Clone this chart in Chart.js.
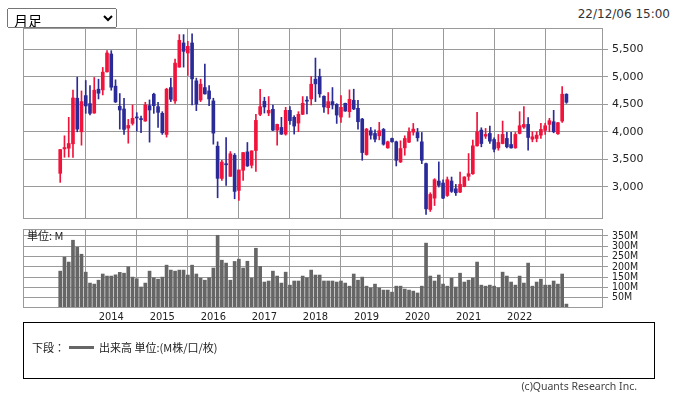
<!DOCTYPE html>
<html>
<head>
<meta charset="utf-8">
<script src="https://cdn.jsdelivr.net/npm/chart.js@4.4.1/dist/chart.umd.min.js"></script>
<style>
html, body { margin: 0; padding: 0; background: #fff; }
body { width: 675px; height: 398px; position: relative; overflow: hidden; font-family: "DejaVu Sans", sans-serif; }
canvas { position: absolute; left: 0; top: 0; }
select { position: absolute; left: 7px; top: 8px; width: 110px; height: 20px; font: 14px "Noto Sans CJK JP"; padding: 0 2px; color: #000; z-index: 2; }
#stamp { position: absolute; right: 5px; top: 7px; font: 12px "DejaVu Sans"; color: #333; }
#legend { position: absolute; left: 23px; top: 322px; width: 632px; height: 57px; border: 1px solid #000; box-sizing: border-box; font: 11px "Noto Sans CJK JP"; color: #222; }
#legend .row { position: absolute; left: 8px; top: 16px; display: flex; align-items: center; }
#legend .line { display: inline-block; width: 25px; height: 3px; background: #666; margin: 0 5px 0 4px; }
#copy { position: absolute; right: 38px; top: 379px; font: 10.5px "Noto Sans"; color: #444; }
</style>
</head>
<body>
<select><option>月足</option></select>
<div id="stamp">22/12/06 15:00</div>
<canvas id="price" width="675" height="219"></canvas>
<canvas id="volume" width="675" height="330"></canvas>
<div id="legend"><div class="row">下段：<span class="line"></span>出来高 単位:(M株/口/枚)</div></div>
<div id="copy">(c)Quants Research Inc.</div>
<script>
// monthly candles, Jan 2013 .. Dec 2022
const opens = [3245, 3689, 3701, 3781, 4608, 3999, 4656, 4510, 4340, 4772, 4760, 5088,
  5411, 4827, 4462, 4413, 4066, 4151, 4260, 4230, 4194, 4474, 4681, 4455,
  4334, 3951, 4802, 4559, 5173, 5611, 5429, 5611, 4924, 4577, 4802, 4741,
  4559, 3738, 3153, 3420, 3190, 3573, 2935, 3300, 3634, 3391, 3659, 4316,
  4553, 4340, 4407, 4030, 4078, 3957, 4389, 4261, 4157, 4316, 4565, 4595,
  4954, 5003, 4644, 4437, 4547, 4498, 4267, 4516, 4364, 4571, 4425, 4230,
  3586, 4018, 3969, 3926, 4042, 3707, 3878, 3817, 3452, 3707, 3811, 3993,
  3987, 3817, 3421, 2588, 2795, 3105, 3069, 2843, 3105, 2965, 2904, 3008,
  3190, 3239, 3744, 4030, 3920, 3969, 3859, 3707, 3786, 3878, 3768, 3707,
  3969, 4084, 4133, 3865, 3878, 3938, 4024, 4133, 4182, 3963, 4194, 4681];
const highs = [3680, 3926, 4261, 4754, 4991, 4741, 4930, 4839, 4985, 4954, 5167, 5471,
  5471, 4942, 4693, 4608, 4224, 4486, 4346, 4285, 4535, 4577, 4699, 4535,
  4364, 4790, 4973, 5319, 5763, 5763, 5642, 5776, 4973, 4954, 5228, 4839,
  4608, 3817, 3480, 3896, 3640, 3604, 3306, 3622, 3805, 3653, 4316, 4772,
  4626, 4638, 4486, 4140, 4261, 4443, 4455, 4291, 4364, 4638, 4638, 5003,
  5338, 5137, 4650, 4711, 4802, 4510, 4656, 4520, 4760, 4772, 4571, 4243,
  4060, 4078, 4036, 4170, 4060, 3830, 3885, 3830, 3835, 3926, 4072, 4151,
  4060, 3987, 3430, 2892, 3148, 3452, 3129, 3178, 3178, 3044, 3269, 3185,
  3604, 3847, 4352, 4072, 4060, 4103, 3890, 3951, 4194, 3987, 3987, 3987,
  4364, 4455, 4255, 4000, 4000, 4151, 4151, 4243, 4389, 4170, 4820, 4690];
const lows = [3081, 3537, 3540, 3536, 3999, 3756, 4334, 4303, 4334, 4595, 4668, 5080,
  4754, 4530, 4048, 3951, 3792, 4121, 4011, 3981, 4190, 3811, 4334, 4078,
  3951, 3902, 4547, 4516, 5170, 5173, 5021, 4486, 4383, 4547, 4680, 4474,
  3774, 2801, 3117, 3026, 3190, 2783, 2752, 3117, 3370, 3342, 3281, 4291,
  4340, 4291, 4020, 3756, 3950, 3938, 4133, 3957, 4000, 4310, 4322, 4486,
  4547, 4626, 4352, 4322, 4413, 4151, 4170, 4370, 4261, 4400, 4048, 3482,
  3574, 3865, 3817, 3853, 3756, 3700, 3810, 3379, 3440, 3573, 3800, 3938,
  3829, 3421, 2497, 2552, 2661, 2996, 2783, 2825, 2898, 2843, 2892, 3000,
  3117, 3227, 3740, 3726, 3878, 3786, 3634, 3665, 3780, 3707, 3700, 3700,
  3960, 4060, 3665, 3817, 3817, 3878, 3951, 3999, 3981, 3951, 4170, 4516];
const closes = [3677, 3713, 3786, 4613, 4048, 4547, 4468, 4334, 4754, 4699, 5082, 5429,
  4808, 4541, 4395, 4042, 4115, 4243, 4250, 4220, 4486, 4395, 4474, 4352,
  3981, 4772, 4589, 5246, 5660, 5459, 5550, 4960, 4504, 4863, 4687, 4595,
  3975, 3154, 3450, 3400, 3600, 2917, 3306, 3622, 3379, 3653, 4206, 4455,
  4449, 4389, 4030, 4133, 3957, 4389, 4200, 4103, 4316, 4516, 4555, 4863,
  4869, 4687, 4449, 4547, 4486, 4303, 4443, 4376, 4589, 4413, 4182, 3622,
  4048, 3938, 3865, 4018, 3774, 3817, 3817, 3482, 3695, 3878, 3999, 4048,
  3890, 3482, 2600, 2862, 3129, 3026, 2795, 3129, 2917, 2892, 3044, 3178,
  3239, 3744, 3999, 3786, 3951, 3829, 3683, 3805, 3951, 3726, 3707, 3951,
  4109, 4133, 3896, 3908, 3938, 4042, 4109, 4200, 3999, 4164, 4681, 4535];
// volume in millions
const volumes = [179, 247, 223, 329, 295, 261, 174, 121, 116, 135, 165, 155,
  155, 161, 173, 169, 200, 150, 142, 102, 121, 179, 147, 140,
  150, 208, 184, 179, 184, 184, 160, 208, 165, 145, 135, 147,
  194, 353, 232, 218, 135, 226, 237, 194, 227, 145, 290, 202,
  126, 131, 179, 155, 121, 174, 111, 131, 131, 155, 147, 184,
  160, 160, 131, 131, 131, 126, 131, 121, 106, 165, 135, 150,
  106, 97, 116, 97, 87, 87, 77, 106, 106, 92, 87, 82,
  73, 106, 315, 155, 131, 160, 116, 106, 145, 102, 169, 126,
  135, 145, 223, 111, 106, 111, 106, 98, 174, 155, 126, 111,
  155, 121, 218, 106, 126, 140, 111, 111, 131, 116, 165, 19];
const yearLabels = ['2014', '2015', '2016', '2017', '2018', '2019', '2020', '2021', '2022'];
const yearStarts = [12, 24, 36, 48, 60, 72, 84, 96, 108];
const priceTicks = [3000, 3500, 4000, 4500, 5000, 5500];
const volumeTicks = [50, 100, 150, 200, 250, 300, 350];

const UP = '#f0143c';
const DOWN = '#2b2b98';
const GRID = '#9a9a9a';

const idx = opens.map((_, i) => i);
const candleColors = idx.map(i => closes[i] >= opens[i] ? UP : DOWN);

// gray frame round the plot area
const frame = {
  id: 'frame',
  afterDraw(chart) {
    const { ctx, chartArea: a } = chart;
    ctx.save();
    ctx.strokeStyle = GRID;
    ctx.lineWidth = 1;
    ctx.strokeRect(Math.round(a.left) + 0.5, Math.round(a.top) + 0.5,
      Math.round(a.right - a.left) - 1, Math.round(a.bottom - a.top) - 1);
    ctx.restore();
  }
};

const unitLabel = {
  id: 'unitLabel',
  afterDraw(chart) {
    const ctx = chart.ctx;
    ctx.save();
    ctx.fillStyle = '#222';
    ctx.font = '11px "Noto Sans CJK JP"';
    ctx.textBaseline = 'middle';
    ctx.fillText('単位: M', 27, 236);
    ctx.restore();
  }
};

// keep tick labels from pushing the plot area around
const noPad = s => {
  s.paddingTop = 0;
  s.paddingBottom = 0;
  s.paddingLeft = 0;
  s.paddingRight = 0;
};

const xScale = (showLabels) => ({
  type: 'linear',
  min: -8.75,
  max: 127.6,
  offset: false,
  afterBuildTicks: s => { s.ticks = yearStarts.map(v => ({ value: v })); },
  afterFit: s => { s.height = showLabels ? 22 : 0; noPad(s); },
  ticks: {
    display: showLabels,
    autoSkip: false,
    maxRotation: 0,
    padding: 3,
    color: '#222',
    font: { family: 'DejaVu Sans Condensed', size: 11 },
    callback: v => yearLabels[yearStarts.indexOf(v)]
  },
  grid: { color: GRID, drawTicks: false },
  border: { display: false }
});

new Chart(document.getElementById('price'), {
  type: 'bar',
  data: {
    datasets: [
      {
        data: idx.map(i => ({ x: i, y: [lows[i], highs[i]] })),
        backgroundColor: candleColors,
        barThickness: 1,
        grouped: false
      },
      {
        data: idx.map(i => ({ x: i, y: [Math.min(opens[i], closes[i]), Math.max(opens[i], closes[i])] })),
        backgroundColor: candleColors,
        barThickness: 3,
        minBarLength: 1,
        grouped: false
      }
    ]
  },
  options: {
    responsive: false,
    animation: false,
    layout: { padding: { left: 23, top: 28, right: 0, bottom: 0 } },
    plugins: { legend: { display: false }, tooltip: { enabled: false } },
    scales: {
      x: xScale(false),
      y: {
        position: 'right',
        min: 2416,
        max: 5883,
        afterBuildTicks: s => { s.ticks = priceTicks.map(v => ({ value: v })); },
        afterFit: s => { s.width = 72; noPad(s); },
        ticks: {
          padding: 4,
          autoSkip: false,
          color: '#222',
          font: { family: 'DejaVu Sans', size: 11 },
          callback: v => v.toLocaleString('en-US')
        },
        grid: { color: GRID, tickLength: 5 },
        border: { display: false }
      }
    }
  },
  plugins: [frame]
});

new Chart(document.getElementById('volume'), {
  type: 'bar',
  data: {
    datasets: [{
      data: idx.map(i => ({ x: i, y: volumes[i] })),
      backgroundColor: '#666',
      barThickness: 3
    }]
  },
  options: {
    responsive: false,
    animation: false,
    layout: { padding: { left: 23, top: 229, right: 0, bottom: 0 } },
    plugins: { legend: { display: false }, tooltip: { enabled: false } },
    scales: {
      x: xScale(true),
      y: {
        position: 'right',
        min: 0,
        max: 383.5,
        afterBuildTicks: s => { s.ticks = volumeTicks.map(v => ({ value: v })); },
        afterFit: s => { s.width = 72; noPad(s); },
        ticks: {
          padding: 4,
          autoSkip: false,
          color: '#222',
          font: { family: 'DejaVu Sans Condensed', size: 10.5 },
          callback: v => v + 'M'
        },
        grid: { color: GRID, tickLength: 5 },
        border: { display: false }
      }
    }
  },
  plugins: [frame, unitLabel]
});
</script>
</body>
</html>
